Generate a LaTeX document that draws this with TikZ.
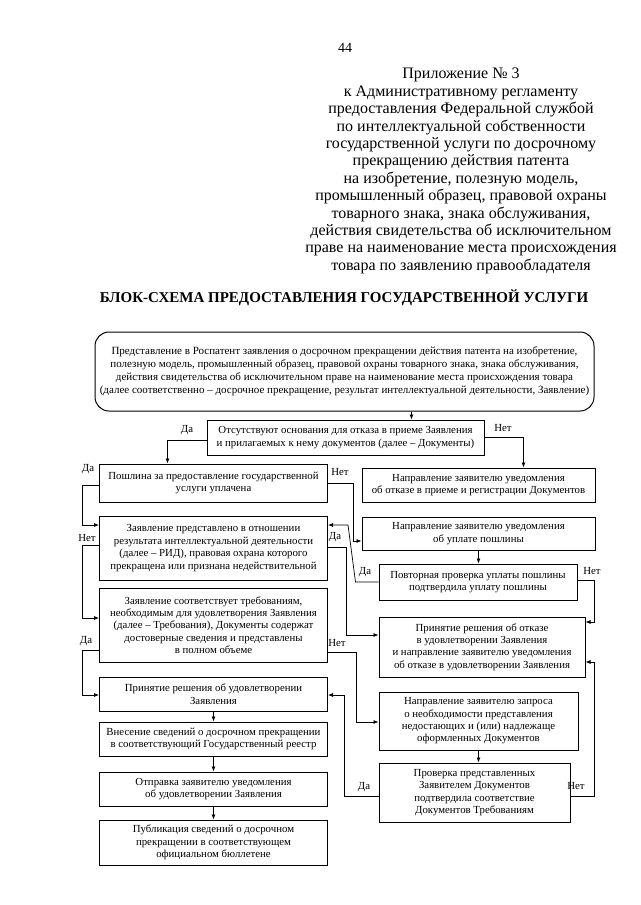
\documentclass[tikz,border=0pt]{standalone}
\usepackage{fontspec}
\setmainfont{Liberation Serif}
\usetikzlibrary{
  positioning,
  calc,
  arrows.meta}
\tikzset{
  connection_arrow/.style={-{Latex[length=5pt, width=4pt]}, line width=0.7pt}
}
\tikzset{
  %% box : one step of the procedure
  box/.style={
    rectangle,
    draw=black,
    line width=1pt,
    inner sep=1pt,
    align=center,
    font=\fontsize{10.8}{12.4}\selectfont
  },
  %% startbox : the application that starts the procedure
  startbox/.style={
    box,
    rounded corners=14pt,
    font=\fontsize{11}{13}\selectfont
  },
  %% answer : Да / Нет beside a connection
  answer/.style={
    inner sep=0pt,
    font=\fontsize{10.8}{12}\selectfont
  },
  %% header : text above the scheme
  header/.style={
    align=center,
    inner sep=0pt,
    font=\fontsize{16}{17.4}\selectfont
  }
}

\begin{document}
\begin{tikzpicture}
  [x=1pt,
  y=-1pt,
  align=center]

  \useasboundingbox [fill=white] (0, 0) rectangle (640, 905);

  %% Page header
  \node (pagenum) [header, font=\fontsize{14}{16}\selectfont] at (345, 48) {44};

  \node (appendix) [header] at (461, 171) {%
    Приложение № 3\\
    к Административному регламенту\\
    предоставления Федеральной службой\\
    по интеллектуальной собственности\\
    государственной услуги по досрочному\\
    прекращению действия патента\\
    на изобретение, полезную модель,\\
    промышленный образец, правовой охраны\\
    товарного знака, знака обслуживания,\\
    действия свидетельства об исключительном\\
    праве на наименование места происхождения\\
    товара по заявлению правообладателя
  };

  \node (title) [header, font=\fontsize{15}{18}\selectfont\bfseries] at (346, 298) {%
    БЛОК-СХЕМА ПРЕДОСТАВЛЕНИЯ ГОСУДАРСТВЕННОЙ УСЛУГИ
  };

  %% Main workflow
  \node (top) [startbox, minimum width=499pt, minimum height=79pt] at (344.5, 371.5) {%
    Представление в Роспатент заявления о досрочном прекращении действия патента на изобретение,\\
    полезную модель, промышленный образец, правовой охраны товарного знака, знака обслуживания,\\
    действия свидетельства об исключительном праве на наименование места происхождения товара\\
    (далее соответственно – досрочное прекращение, результат интеллектуальной деятельности, Заявление)
  };

  \node (absent) [box, minimum width=277pt, minimum height=35pt] at (345.5, 437.5) {%
    Отсутствуют основания для отказа в приеме Заявления\\
    и прилагаемых к нему документов (далее – Документы)
  };

  %% Left column
  \node (fee) [box, minimum width=228pt, minimum height=38pt] at (213.5, 483) {%
    Пошлина за предоставление государственной\\
    услуги уплачена
  };

  \node (rid) [box, minimum width=228pt, minimum height=64pt] at (213.5, 548) {%
    Заявление представлено в отношении\\
    результата интеллектуальной деятельности\\
    (далее – РИД), правовая охрана которого\\
    прекращена или признана недействительной
  };

  \node (req) [box, minimum width=228pt, minimum height=74pt] at (213.5, 625) {%
    Заявление соответствует требованиям,\\
    необходимым для удовлетворения Заявления\\
    (далее – Требования), Документы содержат\\
    достоверные сведения и представлены\\
    в полном объеме
  };

  \node (accept) [box, minimum width=228pt, minimum height=34pt] at (213.5, 694) {%
    Принятие решения об удовлетворении\\
    Заявления
  };

  \node (register) [below=10pt of accept, box, minimum width=228pt, minimum height=34pt]{%
    Внесение сведений о досрочном прекращении\\
    в соответствующий Государственный реестр
  };

  \node (notify) [below=15pt of register, box, minimum width=228pt, minimum height=34pt]{%
    Отправка заявителю уведомления\\
    об удовлетворении Заявления
  };

  \node (publish) [below=13pt of notify, box, minimum width=228pt, minimum height=45pt]{%
    Публикация сведений о досрочном\\
    прекращении в соответствующем\\
    официальном бюллетене
  };

  %% Right column
  \node (refuse1) [box, minimum width=233pt, minimum height=34pt] at (478.5, 485) {%
    Направление заявителю уведомления\\
    об отказе в приеме и регистрации Документов
  };

  \node (feenote) [box, minimum width=233pt, minimum height=33pt] at (478.5, 533.5) {%
    Направление заявителю уведомления\\
    об уплате пошлины
  };

  \node (recheck) [box, minimum width=198pt, minimum height=36pt] at (478, 582) {%
    Повторная проверка уплаты пошлины\\
    подтвердила уплату пошлины
  };

  \node (refuse2) [box, minimum width=206pt, minimum height=60pt] at (482, 647) {%
    Принятие решения об отказе\\
    в удовлетворении Заявления\\
    и направление заявителю уведомления\\
    об отказе в удовлетворении Заявления
  };

  \node (request) [box, minimum width=199pt, minimum height=58pt] at (478.5, 721) {%
    Направление заявителю запроса\\
    о необходимости представления\\
    недостающих и (или) надлежаще\\
    оформленных Документов
  };

  \node (check) [box, minimum width=191pt, minimum height=59pt] at (474.5, 792.5) {%
    Проверка представленных\\
    Заявителем Документов\\
    подтвердила соответствие\\
    Документов Требованиям
  };

  %% Connections
  \draw [connection_arrow] ([xshift=67pt]top.south) -- ([xshift=67pt]top.south |- absent.north);
  \draw [connection_arrow] ([yshift=-2.5pt]absent.west) -| ([xshift=-46pt]fee.north);
  \draw [connection_arrow] (absent.east) -| ([xshift=45pt]refuse1.north);

  \draw [connection_arrow] ([yshift=-2pt]fee.west) -- ++(-17, 0) |- ([yshift=23pt]rid.west);
  \draw [connection_arrow] (fee.east) -- ++(25, 0) |- ([yshift=-7.5pt]feenote.west);

  \draw [connection_arrow] ([yshift=3pt]rid.west) -- ++(-17, 0) |- ([yshift=7pt]req.west);
  \draw [connection_arrow] ([yshift=1pt]rid.east) -- ++(18, 0) |- ([yshift=12pt]refuse2.west);

  \draw [connection_arrow] (feenote.south) -- (feenote.south |- recheck.north);
  \draw [connection_arrow] (recheck.west) -- ++(-23, 0)
    -- ([xshift=20pt, yshift=23pt]rid.east) -- ([yshift=23pt]rid.east);
  \draw [connection_arrow] ([yshift=2pt]recheck.east) -- ++(17, 0) |- ([yshift=25pt]refuse2.east);

  \draw [connection_arrow] ([yshift=-25pt]req.west) -- ++(-17, 0) |- ([yshift=-1pt]accept.west);
  \draw [connection_arrow] ([yshift=-27pt]req.east) -- ++(28, 0) |- ([yshift=-1pt]request.west);

  \draw [connection_arrow] (request.south) -- (request.south |- check.north);
  \draw [connection_arrow] ([yshift=-3.5pt]check.west) -- ++(-34, 0) |- ([yshift=-1pt]accept.east);
  \draw [connection_arrow] ([yshift=-3.5pt]check.east) -- ++(24, 0) |- ([yshift=-15pt]refuse2.east);

  \draw [connection_arrow] (accept) -- (register);
  \draw [connection_arrow] (register) -- (notify);
  \draw [connection_arrow] (notify) -- (publish);

  %% Answers
  \node (absent_yes) [answer] at (187, 430) {Да};
  \node (absent_no) [answer] at (503, 428) {Нет};
  \node (fee_yes) [answer] at (88, 469) {Да};
  \node (fee_no) [answer] at (340, 472) {Нет};
  \node (rid_no) [answer] at (87, 538) {Нет};
  \node (rid_yes) [answer] at (335, 537) {Да};
  \node (recheck_yes) [answer] at (365, 572) {Да};
  \node (recheck_no) [answer] at (592, 571) {Нет};
  \node (req_yes) [answer] at (86, 641) {Да};
  \node (req_no) [answer] at (337, 643) {Нет};
  \node (check_yes) [answer] at (364, 787) {Да};
  \node (check_no) [answer] at (576, 786) {Нет};

\end{tikzpicture}
\end{document}
